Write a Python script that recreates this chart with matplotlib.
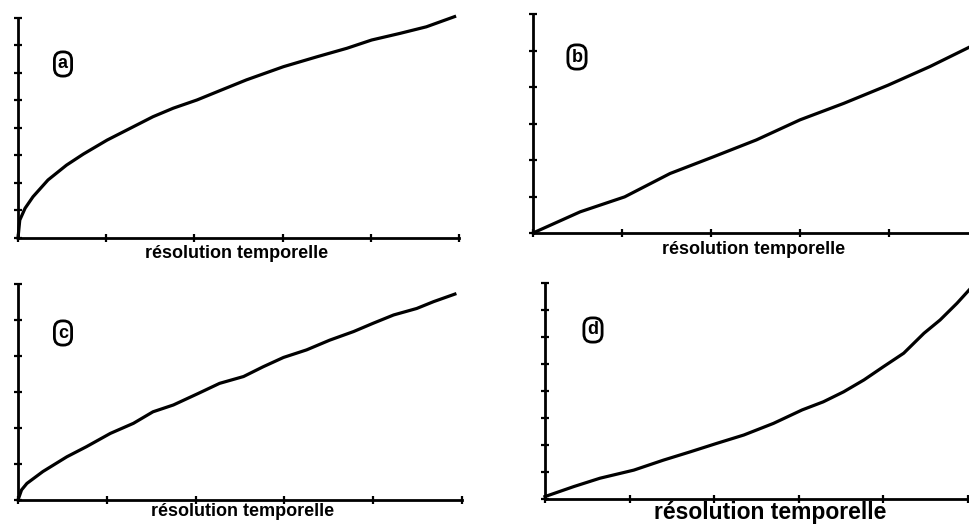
import matplotlib
matplotlib.use("Agg")
import matplotlib.pyplot as plt

# ---- data ----
xa = [0, 0.02, 0.08, 0.17, 0.34, 0.55, 0.74, 1.01, 1.31, 1.53, 1.76, 2.03, 2.29, 2.59,
      3.01, 3.39, 3.73, 4.01, 4.33, 4.63, 4.95]
ya = [0, 0.65, 1.08, 1.5, 2.11, 2.65, 3.05, 3.56, 4.05, 4.41, 4.72, 5.02, 5.36, 5.75,
      6.23, 6.59, 6.9, 7.2, 7.44, 7.68, 8.05]

xb = [0, 0.53, 1.03, 1.54, 2.03, 2.51, 3.0, 3.49, 3.99, 4.46, 4.91]
yb = [0, 0.58, 0.99, 1.63, 2.09, 2.55, 3.1, 3.55, 4.05, 4.56, 5.1]

xc = [0, 0.04, 0.1, 0.28, 0.55, 0.77, 1.04, 1.3, 1.52, 1.75, 2.03, 2.27, 2.54, 2.76,
      2.99, 3.25, 3.51, 3.78, 4.0, 4.23, 4.49, 4.68, 4.92]
yc = [0, 0.28, 0.46, 0.79, 1.2, 1.48, 1.85, 2.13, 2.45, 2.64, 2.96, 3.24, 3.43, 3.7,
      3.96, 4.17, 4.44, 4.68, 4.91, 5.14, 5.32, 5.51, 5.72]

xd = [0, 0.34, 0.65, 1.05, 1.4, 1.72, 2.03, 2.35, 2.7, 3.04, 3.29, 3.53, 3.77, 4.0,
      4.24, 4.48, 4.67, 4.87, 5.03]
yd = [0.09, 0.46, 0.77, 1.07, 1.44, 1.75, 2.06, 2.37, 2.8, 3.3, 3.6, 3.97, 4.41, 4.9,
      5.4, 6.14, 6.63, 7.25, 7.8]

panel_letters = ["a", "b", "c", "d"]
xlabel = "résolution temporelle"
y_max = [8, 6, 6, 8]
x_max = 5

W, H = 970, 528
fig = plt.figure(figsize=(W / 100, H / 100), dpi=100)

def rect(left_px, right_px, top_px, bottom_px):
    return [left_px / W, 1 - bottom_px / H, (right_px - left_px) / W, (bottom_px - top_px) / H]

rects = [
    rect(18, 459, 18, 238),
    rect(533, 978, 14, 233),
    rect(18, 462, 284, 500),
    rect(545, 968, 283, 499),
]
series = [(xa, ya), (xb, yb), (xc, yc), (xd, yd)]
letter_pos = [(63, 64), (577, 57), (63, 333), (593, 330)]
label_pos = [(237, 254), (754, 249), (243, 511), (770, 512)]
label_size = [13, 13, 13, 16.5]

for i in range(4):
    ax = fig.add_axes(rects[i])
    x, y = series[i]
    ax.plot(x, y, color="black", lw=2.3, solid_joinstyle="round", clip_on=False)
    ax.set_xlim(0, x_max)
    ax.set_ylim(0, y_max[i])
    ax.set_xticks(range(0, x_max + 1))
    ax.set_yticks(range(0, y_max[i] + 1))
    ax.set_xticklabels([])
    ax.set_yticklabels([])
    ax.tick_params(direction="inout", length=6, width=1.6, color="black")
    for s in ["top", "right"]:
        ax.spines[s].set_visible(False)
    for s in ["left", "bottom"]:
        ax.spines[s].set_linewidth(2.0)
    ax.patch.set_alpha(0)
    lx, ly = letter_pos[i]
    fig.text(lx / W, 1 - ly / H, panel_letters[i], ha="center", va="center",
             fontsize=13, family="Liberation Sans", fontweight="bold",
             bbox=dict(boxstyle="round,pad=0.2,rounding_size=0.45", fc="white",
                       ec="black", lw=2.0))
    tx, ty = label_pos[i]
    fig.text(tx / W, 1 - ty / H, xlabel, ha="center", va="center",
             fontsize=label_size[i], family="Liberation Sans", fontweight="bold")

fig.savefig("out.png", dpi=100)
